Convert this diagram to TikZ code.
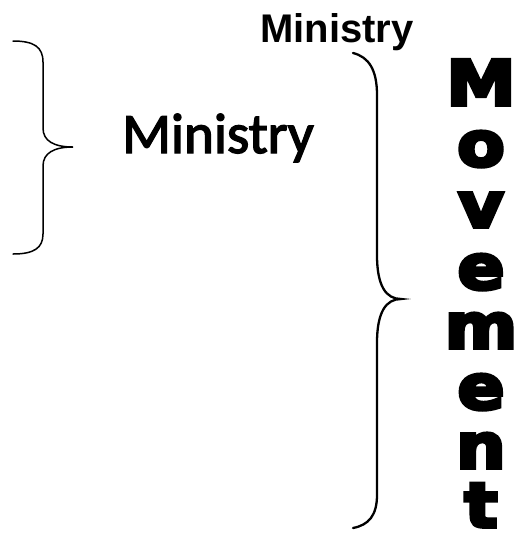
\documentclass[tikz,border=0pt]{standalone}
\usepackage{fontspec}
\newfontfamily\calibriFont{Carlito}[FakeBold=2.5]
\newfontfamily\arialBold{Liberation Sans Bold}
\newfontfamily\blackFont{DejaVu Sans Bold}[FakeBold=6, FakeStretch=1.12]

\begin{document}
\begin{tikzpicture}[
        x=1pt, y=-1pt,
        every node/.style={inner sep=0pt, anchor=base},
        bigLabel/.style={font=\calibriFont\fontsize{57}{57}\selectfont},
        topLabel/.style={font=\arialBold\fontsize{40}{40}\selectfont},
        stackLetter/.style={font=\blackFont\fontsize{62}{62}\selectfont},
        thinBrace/.style={black, line width=1.5pt, line cap=round},
        thickBrace/.style={black, line width=2.3pt, line cap=round}
    ]
        \useasboundingbox (0,0) rectangle (521,542);

        % Left brace, tip pointing at the big label
        \coordinate (lbTop) at (13,41);
        \coordinate (lbTip) at (73,147);
        \coordinate (lbBot) at (13,254);
        \draw[thinBrace] (lbTop) .. controls (34,41) and (43,47) .. (43,62)
            -- (43,128) .. controls (43,141) and (54,147) .. (lbTip)
            .. controls (54,147) and (43,153) .. (43,166)
            -- (43,234) .. controls (43,248) and (34,254) .. (lbBot);

        \node[bigLabel] (ministryMid) at (218,153) {Ministry};
        \node[topLabel] (ministryTop) at (337,42) {Ministry};

        % Right brace, spanning the whole column of letters
        \coordinate (rbTop) at (353,53);
        \coordinate (rbTip) at (401,299);
        \coordinate (rbBot) at (353,528);
        \draw[thickBrace] (rbTop) .. controls (369,57) and (377,70) .. (377,95)
            -- (377,255) .. controls (377,286) and (386,299) .. (rbTip)
            .. controls (386,299) and (377,312) .. (377,343)
            -- (377,495) .. controls (377,515) and (369,525) .. (rbBot);

        % Vertical word, one letter per line
        \node[stackLetter] (letM)  at (481,105) {M};
        \node[stackLetter] (letO)  at (481,166) {o};
        \node[stackLetter] (letV)  at (481,227) {v};
        \node[stackLetter] (letE)  at (481,289) {e};
        \node[stackLetter] (letM2) at (481,348) {m};
        \node[stackLetter] (letE2) at (481,409) {e};
        \node[stackLetter] (letN)  at (481,468) {n};
        \node[stackLetter] (letT)  at (481,527) {t};

    \end{tikzpicture}
\end{document}
